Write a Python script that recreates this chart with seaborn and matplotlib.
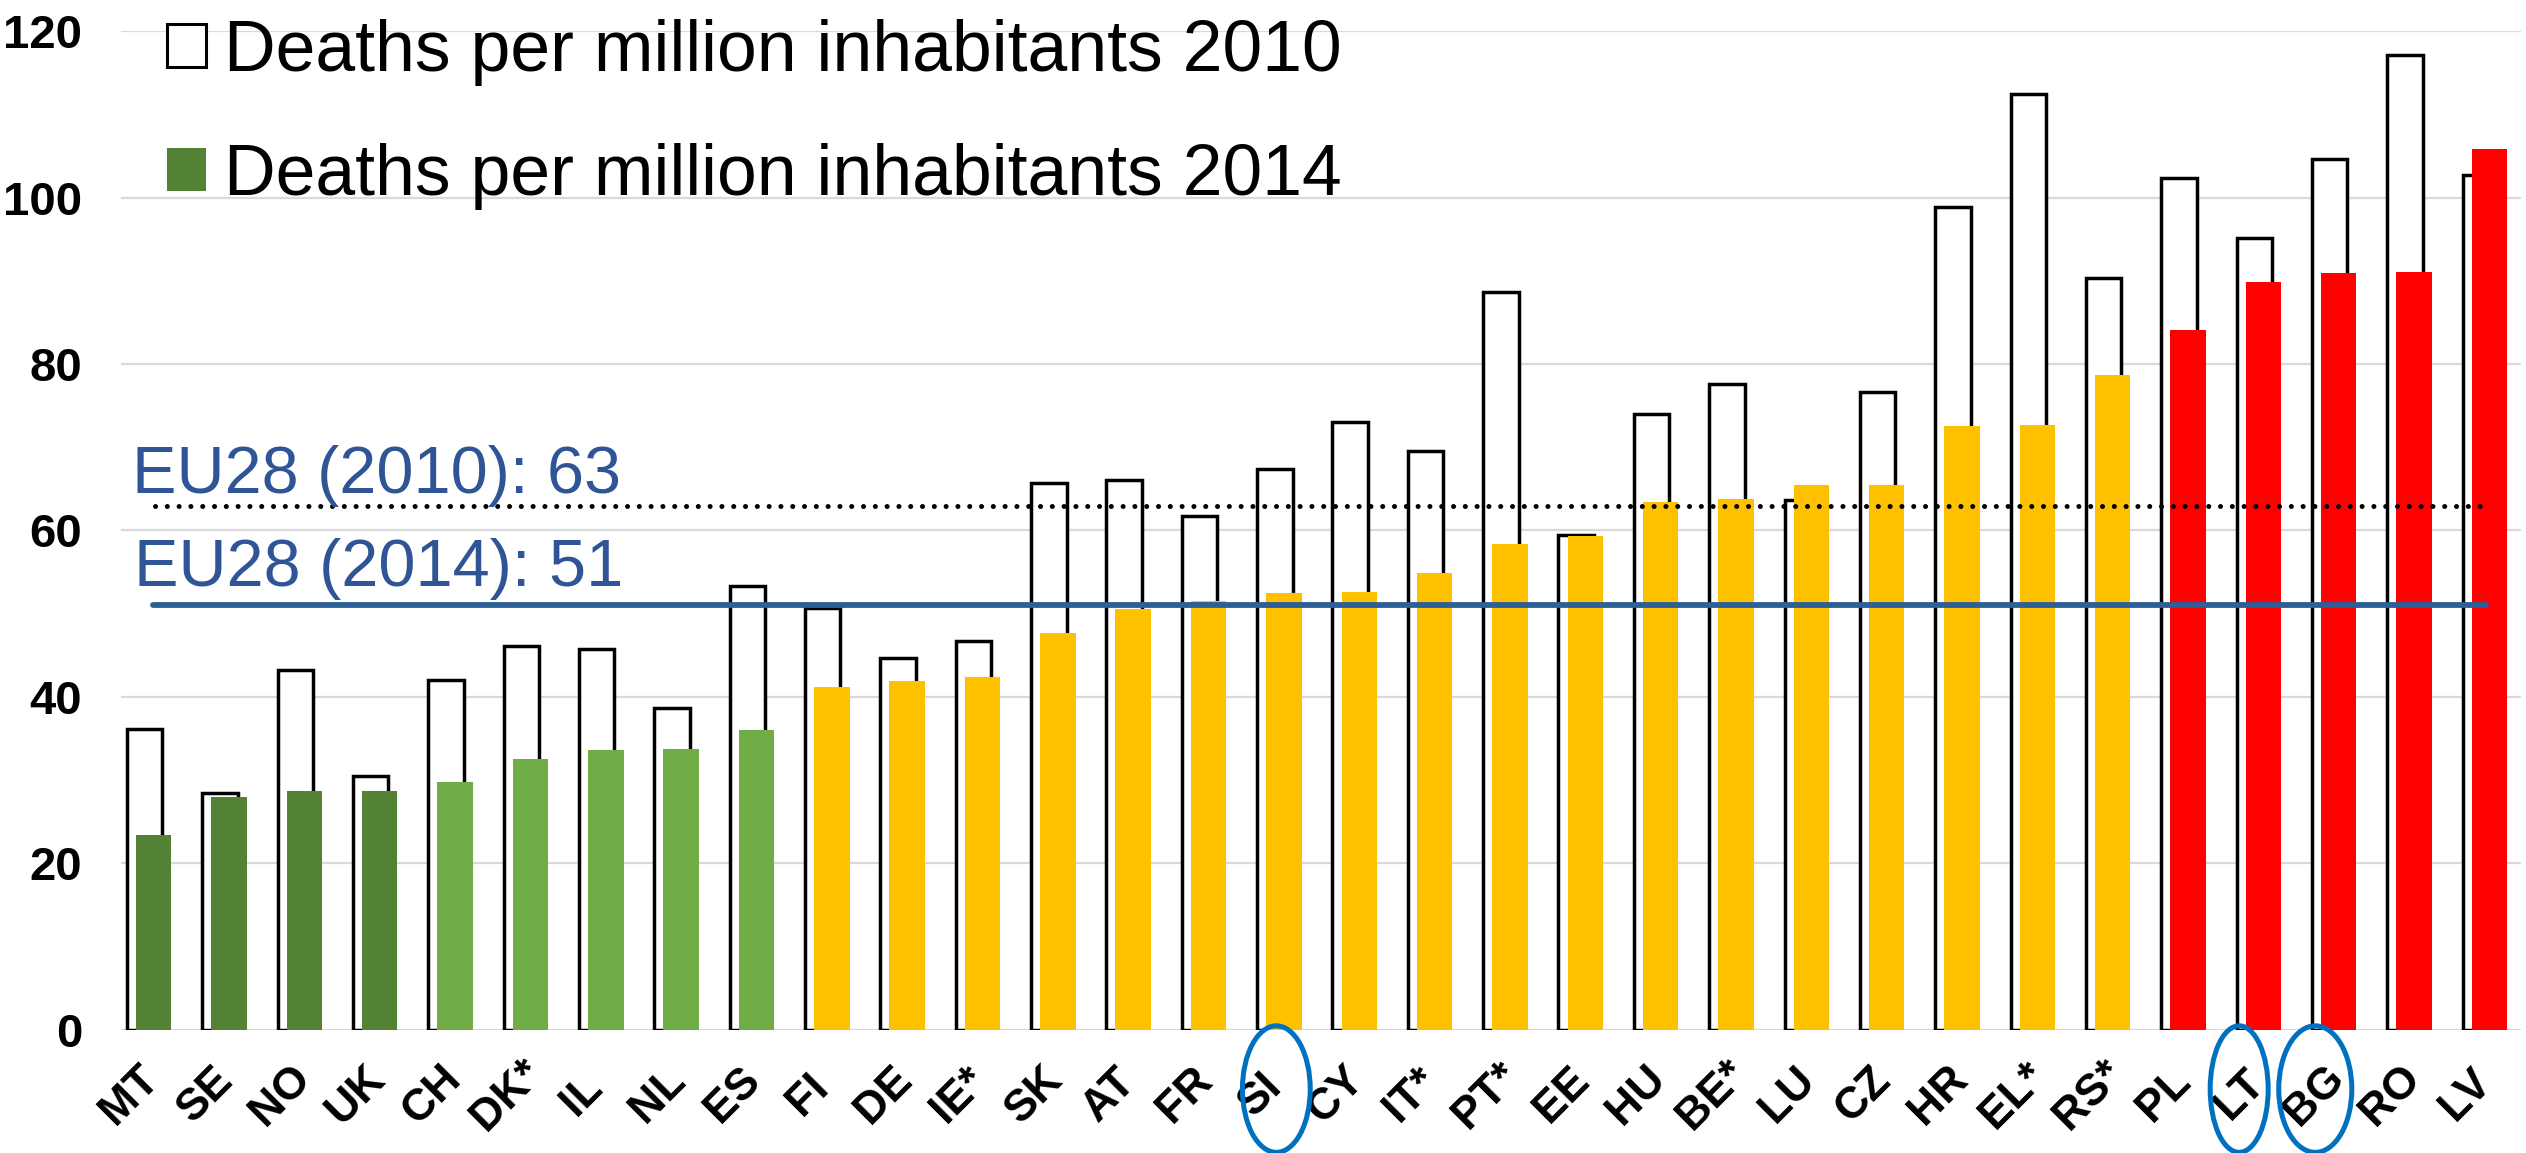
import numpy as np
import pandas as pd
import matplotlib
matplotlib.use("Agg")
import matplotlib.pyplot as plt
import seaborn as sns
from matplotlib.patches import Patch, Ellipse
from matplotlib.transforms import ScaledTranslation

# ---- data ----
paises = ["MT", "SE", "NO", "UK", "CH", "DK*", "IL", "NL", "ES", "FI", "DE", "IE*",
          "SK", "AT", "FR", "SI", "CY", "IT*", "PT*", "EE", "HU", "BE*", "LU", "CZ",
          "HR", "EL*", "RS*", "PL", "LT", "BG", "RO", "LV"]
mortes_2010 = [36.2, 28.5, 43.3, 30.5, 42.0, 46.1, 45.8, 38.7, 53.3, 50.7, 44.7, 46.7,
               65.7, 66.1, 61.8, 67.4, 73.0, 69.6, 88.7, 59.5, 74.0, 77.6, 63.7, 76.6,
               98.9, 112.4, 90.3, 102.3, 95.1, 104.6, 117.1, 102.7]
mortes_2014 = [23.4, 28.0, 28.7, 28.7, 29.8, 32.5, 33.6, 33.8, 36.0, 41.2, 41.9, 42.4,
               47.7, 50.6, 51.5, 52.5, 52.6, 54.9, 58.4, 59.3, 63.4, 63.8, 65.5, 65.5,
               72.5, 72.7, 78.7, 84.1, 89.8, 90.9, 91.0, 105.8]
grupos = (["verde_escuro"] * 4 + ["verde_claro"] * 5 + ["amarelo"] * 18 + ["vermelho"] * 5)
cores_grupo = {"verde_escuro": "#548235", "verde_claro": "#70AD47",
               "amarelo": "#FFC000", "vermelho": "#FF0000"}
media_ue_2010 = 63
media_ue_2014 = 51
# países circulados: (deslocamento x, largura da elipse)
destacados = {"SI": (-0.05, 0.90), "LT": (-0.27, 0.77), "BG": (-0.26, 0.97)}

df = pd.DataFrame({"pais": paises, "v2010": mortes_2010, "v2014": mortes_2014, "grupo": grupos})
df["pos"] = np.arange(len(df))
df["pos2010"] = df["pos"] - 0.07
df["pos2014"] = df["pos"] + 0.05

# ---- figure ----
sns.set_style("white")
plt.rcParams["font.family"] = ["Liberation Sans", "DejaVu Sans"]
plt.rcParams["text.color"] = "black"
plt.rcParams["xtick.color"] = "black"
plt.rcParams["ytick.color"] = "black"

fig = plt.figure(figsize=(25.26, 11.53), dpi=100)
ax = fig.add_axes([0.0479, 0.1067, 0.9501, 0.8664])

# 2010: barras brancas com contorno preto
sns.barplot(data=df, x="pos2010", y="v2010", native_scale=True, width=0.47,
            color="white", edgecolor="black", linewidth=2.5, errorbar=None,
            saturation=1, ax=ax, zorder=2)
# 2014: barras coloridas por cima
sns.barplot(data=df, x="pos2014", y="v2014", native_scale=True, width=0.47,
            hue="grupo", palette=cores_grupo, dodge=False, legend=False,
            errorbar=None, saturation=1, linewidth=0, ax=ax, zorder=3)

# médias UE
x0, x1 = df["pos"].iloc[0], df["pos"].iloc[-1]
ax.plot([x0 + 0.06, x1 - 0.03], [media_ue_2010] * 2, color="black",
        linestyle=(0, (0.01, 2.35)), linewidth=3.6, dash_capstyle="round", zorder=4)
ax.plot([x0 + 0.04, x1], [media_ue_2014] * 2, color="#2C5F96", linewidth=4.2,
        solid_capstyle="round", zorder=4)
ax.text(-0.24, 64.5, f"EU28 (2010): {media_ue_2010}", color="#2F5597",
        fontsize=48, ha="left", va="baseline", zorder=5)
ax.text(-0.21, 53.3, f"EU28 (2014): {media_ue_2014}", color="#2F5597",
        fontsize=48, ha="left", va="baseline", zorder=5)

# eixos
ax.set_xlim(-0.385, 31.47)
ax.set_ylim(0, 120)
ax.set_yticks(range(0, 121, 20))
ax.tick_params(axis="y", labelsize=34, length=0, pad=28)
for lbl in ax.get_yticklabels():
    lbl.set_fontweight("bold")
ax.set_xticks(df["pos"], df["pais"])
ax.tick_params(axis="x", labelsize=32, length=0, pad=47)
desloc = ScaledTranslation(-20 / 100, 0, fig.dpi_scale_trans)
for lbl in ax.get_xticklabels():
    lbl.set_rotation(45)
    lbl.set_ha("center")
    lbl.set_va("center")
    lbl.set_rotation_mode("anchor")
    lbl.set_fontweight("bold")
    lbl.set_transform(lbl.get_transform() + desloc)
ax.set_xlabel("")
ax.set_ylabel("")
ax.grid(axis="y", color="#D9D9D9", linewidth=1.6, zorder=0)
ax.set_axisbelow(True)
sns.despine(ax=ax, left=True, bottom=True)

# elipses em volta dos países destacados
for p, (dx, larg) in destacados.items():
    i = paises.index(p)
    ax.add_patch(Ellipse((i + dx, -7.1), larg, 15.2, fill=False, edgecolor="#0070C0",
                         linewidth=3.6, clip_on=False, zorder=6))

# legenda
alcas = [Patch(facecolor="white", edgecolor="black", linewidth=2.2),
         Patch(facecolor=cores_grupo["verde_escuro"], edgecolor="none")]
ax.legend(alcas, ["Deaths per million inhabitants 2010", "Deaths per million inhabitants 2014"],
          loc="upper left", bbox_to_anchor=(0.019, 1.012), frameon=False, fontsize=51.5,
          handlelength=0.55, handleheight=0.55, handletextpad=0.25, labelspacing=0.8,
          borderpad=0, borderaxespad=0)

fig.savefig("out.png", dpi=100)
